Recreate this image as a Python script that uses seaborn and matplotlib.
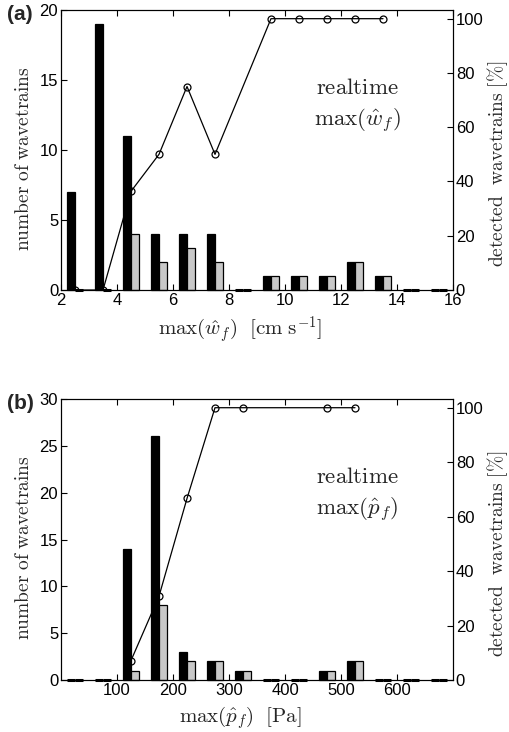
import numpy as np
import pandas as pd
import matplotlib
matplotlib.use("Agg")
import matplotlib.pyplot as plt
import seaborn as sns

# Panel (a): max(w_f) bins
w_centers = [2.5, 3.5, 4.5, 5.5, 6.5, 7.5, 8.5, 9.5, 10.5, 11.5, 12.5, 13.5, 14.5, 15.5]
w_all = [7, 19, 11, 4, 4, 4, 0, 1, 1, 1, 2, 1, 0, 0]
w_det = [0, 0, 4, 2, 3, 2, 0, 1, 1, 1, 2, 1, 0, 0]

# Panel (b): max(p_f) bins
p_centers = [25, 75, 125, 175, 225, 275, 325, 375, 425, 475, 525, 575, 625, 675]
p_all = [0, 0, 14, 26, 3, 2, 1, 0, 0, 1, 2, 0, 0, 0]
p_det = [0, 0, 1, 8, 2, 2, 1, 0, 0, 1, 2, 0, 0, 0]

sns.set_theme(style="white")
plt.rcParams["font.family"] = ["Liberation Sans", "DejaVu Sans"]
plt.rcParams["mathtext.fontset"] = "cm"

fig = plt.figure(figsize=(5.09, 7.32), dpi=100)
ax_a = fig.add_axes([61 / 509, 1 - 290 / 732, 392 / 509, 280 / 732])
ax_b = fig.add_axes([61 / 509, 1 - 680 / 732, 392 / 509, 281 / 732])

TICK_FS = 12
LAB_FS = 14


def panel(ax, centers, allv, detv, xlim, xticks, ylim, yticks, xlabel, mathlbl, tag):
    df = pd.DataFrame({
        "x": list(centers) * 2,
        "n": list(allv) + list(detv),
        "kind": ["all"] * len(centers) + ["detected"] * len(centers),
    })
    sns.barplot(data=df, x="x", y="n", hue="kind", native_scale=True,
                palette=["black", "#c8c8c8"], edgecolor="black", linewidth=0.9,
                width=0.6, gap=0, errorbar=None, legend=False, ax=ax, zorder=2)
    for p in ax.patches:
        p.set_clip_on(False)
        if p.get_height() == 0:
            p.set_linewidth(2.2)
    ax.set_xlim(*xlim)
    ax.set_ylim(*ylim)
    ax.set_xticks(xticks)
    ax.set_xticklabels([str(t) for t in xticks])
    ax.set_yticks(yticks)
    ax.set_yticklabels([str(t) for t in yticks])
    ax.tick_params(direction="in", length=4, width=0.8, labelsize=TICK_FS,
                   top=True, right=False, bottom=True, left=True, pad=2, colors="black")
    ax.set_xlabel(xlabel, fontsize=LAB_FS + 1)
    ax.xaxis.set_label_coords(0.457, -0.085)
    ax.set_ylabel(r"$\mathrm{number\ of\ wavetrains}$", fontsize=LAB_FS)
    ax.yaxis.set_label_coords(-0.071, 0.47)
    for s in ax.spines.values():
        s.set_color("black")
        s.set_linewidth(0.8)

    pct = []
    xs = []
    for c, a, d in zip(centers, allv, detv):
        if a > 0:
            xs.append(c)
            pct.append(100.0 * d / a)
    ldf = pd.DataFrame({"x": xs, "p": pct})
    ax2 = ax.twinx()
    sns.lineplot(data=ldf, x="x", y="p", estimator=None, sort=False, color="black",
                 linewidth=0.9, marker="o", markersize=5, markerfacecolor="none",
                 markeredgecolor="black", markeredgewidth=0.9, ax=ax2)
    ax2.set_ylim(0, 103.2)
    ax2.set_xlim(*xlim)
    ax2.set_yticks([0, 20, 40, 60, 80, 100])
    ax2.set_yticklabels(["0", "20", "40", "60", "80", "100"])
    ax2.tick_params(direction="in", length=4, width=0.8, labelsize=TICK_FS,
                    right=True, left=False, pad=2, colors="black")
    ax2.set_ylabel(r"$\mathrm{detected\ \ wavetrains\ [\%]}$", fontsize=LAB_FS)
    ax2.yaxis.set_label_coords(1.083, 0.45)
    ax2.set_xlabel("")
    for s in ax2.spines.values():
        s.set_color("black")
        s.set_linewidth(0.8)
    ax2.text(0.756, 0.725, r"$\mathrm{realtime}$", transform=ax.transAxes,
             fontsize=16.5, ha="center", va="center")
    ax2.text(0.756, 0.605, mathlbl, transform=ax.transAxes,
             fontsize=16.5, ha="center", va="center")
    ax.text(-0.138, 0.985, tag, transform=ax.transAxes, fontsize=15,
            fontweight="bold", ha="left", va="center")


panel(ax_a, w_centers, w_all, w_det, (2, 16), [2, 4, 6, 8, 10, 12, 14, 16],
      (0, 20), [0, 5, 10, 15, 20],
      r"$\mathrm{max}(\hat{w}_f)\ \ [\mathrm{cm\ s}^{-1}]$",
      r"$\mathrm{max}(\hat{w}_f)$", "(a)")
panel(ax_b, p_centers, p_all, p_det, (0, 700), [100, 200, 300, 400, 500, 600],
      (0, 30), [0, 5, 10, 15, 20, 25, 30],
      r"$\mathrm{max}(\hat{p}_f)\ \ [\mathrm{Pa}]$",
      r"$\mathrm{max}(\hat{p}_f)$", "(b)")

fig.savefig("out.png", dpi=100, facecolor="white")
